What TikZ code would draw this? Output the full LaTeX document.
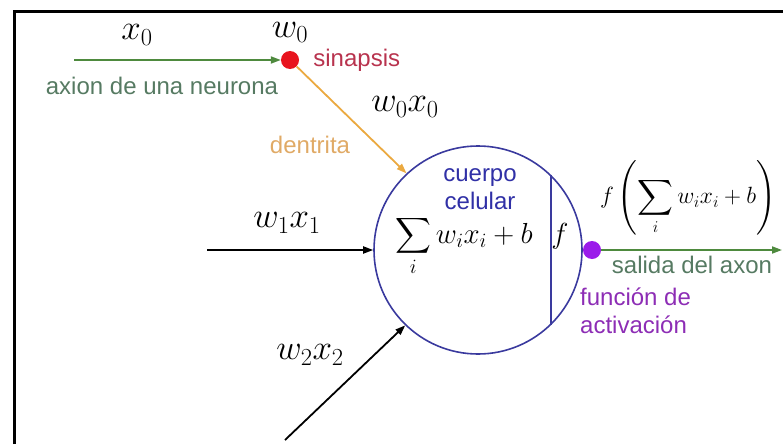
\RequirePackage{fix-cm}
\documentclass[tikz,border=0pt]{standalone}
\usepackage{amsmath}
\usepackage{fontspec}
\setsansfont{Liberation Sans}
\usetikzlibrary{
  arrows.meta,
  positioning
}
\usepackage{xcolor}
\definecolor{nrgreen}{HTML}{4E8A3E}
\definecolor{nrgreentxt}{HTML}{567A62}
\definecolor{nrred}{HTML}{E8141E}
\definecolor{nrredtxt}{HTML}{B8334E}
\definecolor{nrorange}{HTML}{EBA940}
\definecolor{nrorangetxt}{HTML}{E0AA66}
\definecolor{nrblue}{HTML}{3A3A9E}
\definecolor{nrbluetxt}{HTML}{3030A6}
\definecolor{nrpurple}{HTML}{9B1BEA}
\definecolor{nrpurpletxt}{HTML}{8D2DB5}

\begin{document}
\begin{tikzpicture}[
  x=1pt, y=-1pt,
  every node/.style={inner sep=0pt},
  mathlbl/.style={font=\fontsize{35}{40}\selectfont},
  sanslbl/.style={font=\sffamily\fontsize{24}{28}\selectfont},
  sumfont/.style={font=\fontsize{29}{34}\selectfont},
  syndot/.style={circle, minimum size=18pt, inner sep=0pt},
  wire/.style={line width=1.8pt, -{Triangle[length=10pt,width=7pt]}}
]
  \useasboundingbox (0,0) rectangle (783,444);

  % Frame
  \draw[line width=3pt] (14,444) |- (783,12);

  % Cell body
  \node[circle, draw=nrblue, line width=1.6pt, minimum size=208pt] (soma) at (478,250) {};
  \draw[nrblue, line width=1.6pt] (soma.46) -- (soma.-46);

  % Synapse and activation
  \node[syndot, fill=nrred] (syn) at (290,60) {};
  \node[syndot, fill=nrpurple, anchor=west] (act) at (soma.east) {};

  % Free ends
  \coordinate (in0) at (74,60);
  \coordinate (in1) at (207,250);
  \coordinate (in2) at (285,440);
  \coordinate (out) at (782,250);

  % Arrows
  \draw[wire, nrgreen] (in0) -- (syn.west);
  \draw[wire, nrorange] (syn) -- (soma.133);
  \draw[wire, black] (in1) -- (soma.west);
  \draw[wire, black] (in2) -- (soma.-134);
  \draw[wire, nrgreen] (act) -- (out);

  % Labels
  \node[mathlbl] (x0lbl) at (137,35) {$x_0$};
  \node[mathlbl, above=8pt of syn] (w0lbl) {$w_0$};
  \node[sanslbl, text=nrredtxt, right=14pt of syn] (synlbl) {sinapsis};
  \node[sanslbl, text=nrgreentxt] (axlbl) at (162,86) {axion de una neurona};
  \node[mathlbl] (w0x0lbl) at (405,107) {$w_0x_0$};
  \node[sanslbl, text=nrorangetxt] (dlbl) at (310,145) {dentrita};
  \node[sanslbl, text=nrbluetxt, align=center] (bodylbl) at (480,189) {cuerpo\\celular};
  \node[sumfont, anchor=base] (sumlbl) at (464,243) {$\displaystyle\sum_i w_ix_i+b$};
  \node[sumfont, anchor=base] (flbl) at (560,243) {$f$};
  \node[font=\fontsize{23.5}{27}\selectfont] (outlbl) at (688,198) {$f\left(\displaystyle\sum_i w_ix_i+b\right)$};
  \node[sanslbl, text=nrgreentxt] (axoutlbl) at (692,265) {salida del axon};
  \node[sanslbl, text=nrpurpletxt, align=left, anchor=west] (actlbl) at (580,311) {función de\\activación};
  \node[mathlbl] (w1lbl) at (287,223) {$w_1x_1$};
  \node[mathlbl] (w2lbl) at (310,355) {$w_2x_2$};
\end{tikzpicture}
\end{document}
